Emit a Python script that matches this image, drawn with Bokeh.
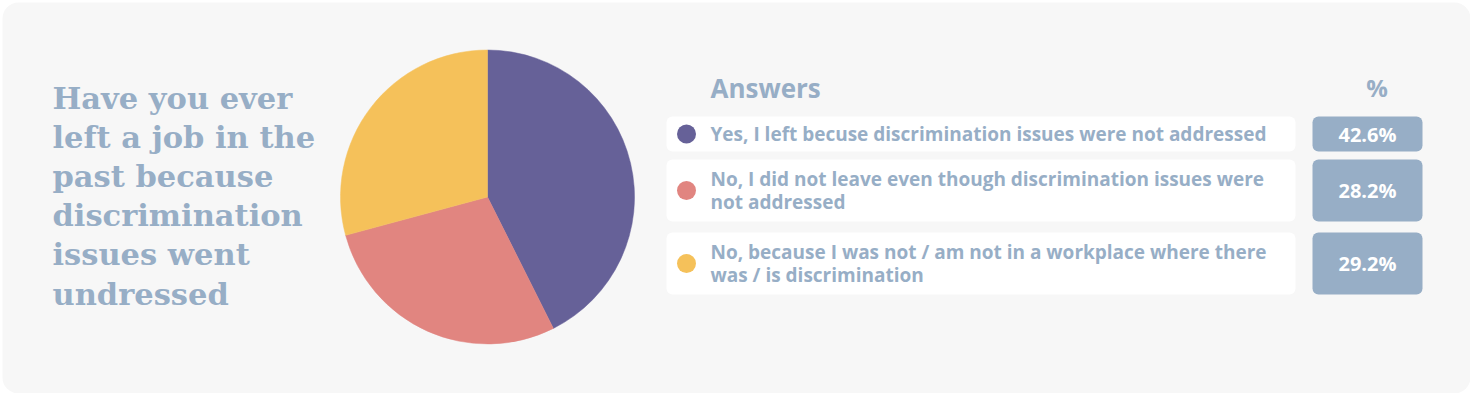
from bokeh.plotting import figure
from bokeh.models import Range1d, ColumnDataSource
from bokeh.core.properties import value
from bokeh.embed import file_html
from bokeh.resources import INLINE
import math

# ---- data ----
question_lines = ["Have you ever", "left a job in the", "past because",
                  "discrimination", "issues went", "undressed"]
answer_lines = [
    ["Yes, I left becuse discrimination issues were not addressed"],
    ["No, I did not leave even though discrimination issues were", "not addressed"],
    ["No, because I was not / am not in a workplace where there", "was / is discrimination"],
]
percents = [42.6, 28.2, 29.2]
colors = ["#666198", "#e18580", "#f5c15a"]
header_answers = "Answers"
header_pct = "%"

W, H = 1470, 393
TXT = "#97aec6"

def X(x):
    return x

def Y(y):
    return H - y

p = figure(width=W, height=H, x_range=Range1d(0, W), y_range=Range1d(0, H),
           output_backend="svg", toolbar_location=None, min_border=0)
p.axis.visible = False
p.grid.visible = False
p.outline_line_color = None
p.background_fill_color = "white"
p.border_fill_color = "white"

# card
p.quad(left=[X(2)], right=[X(1470)], bottom=[Y(393)], top=[Y(2)], fill_color="#f7f7f7",
       line_color=None, border_radius=16)

# question text
for i, t in enumerate(question_lines):
    p.text(x=[X(52)], y=[Y(97 + i * 39.2)], text=[t], text_color=TXT,
           text_font=value("DejaVu Serif"), text_font_style="bold",
           text_font_size="30.5px", text_baseline="middle", text_align="left")

# pie
total = sum(percents)
cum = 0.0
starts, ends = [], []
for v in percents:
    starts.append(math.pi / 2 - cum / total * 2 * math.pi)
    cum += v
    ends.append(math.pi / 2 - cum / total * 2 * math.pi)
src = ColumnDataSource(dict(start=starts, end=ends, color=colors))
p.wedge(x=X(487), y=Y(196.5), radius=147, radius_units="screen",
        start_angle="start", end_angle="end", direction="clock",
        fill_color="color", line_color="color", line_width=0.5, source=src)

# headers
p.text(x=[X(710)], y=[Y(87)], text=[header_answers], text_color=TXT,
       text_font=value("Open Sans"), text_font_style="bold", text_font_size="26px",
       text_baseline="middle", text_align="left")
p.text(x=[X(1376.5)], y=[Y(87)], text=[header_pct], text_color=TXT,
       text_font=value("Open Sans"), text_font_style="bold", text_font_size="24px",
       text_baseline="middle", text_align="center")

# rows
tops = [116, 159, 232]
bots = [151, 221, 294]
for i in range(len(percents)):
    t, b = tops[i], bots[i]
    cy = (t + b) / 2
    p.quad(left=[X(666)], right=[X(1295)], top=[Y(t)], bottom=[Y(b)],
           fill_color="white", line_color=None, border_radius=6)
    p.quad(left=[X(1312)], right=[X(1422)], top=[Y(t)], bottom=[Y(b)],
           fill_color="#97aec6", line_color=None, border_radius=6)
    p.scatter(x=[X(686)], y=[Y(cy)], size=19, marker="circle",
              fill_color=colors[i], line_color=None)
    lines = answer_lines[i]
    n = len(lines)
    for j, ln in enumerate(lines):
        ly = cy + (j - (n - 1) / 2) * 22.5
        p.text(x=[X(710)], y=[Y(ly)], text=[ln], text_color=TXT,
               text_font=value("Open Sans"), text_font_style="bold",
               text_font_size="19px", text_baseline="middle", text_align="left")
    p.text(x=[X(1367)], y=[Y(cy)], text=[f"{percents[i]:.1f}%"], text_color="white",
           text_font=value("Open Sans"), text_font_style="bold", text_font_size="20px",
           text_baseline="middle", text_align="center")

open("out.html", "w").write(file_html(p, INLINE))
